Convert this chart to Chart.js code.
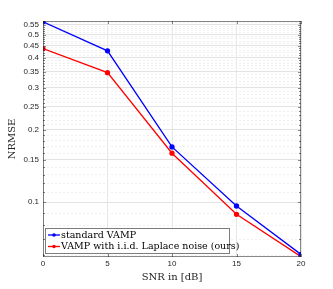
<!DOCTYPE html>
<html>
<head>
<meta charset="utf-8">
<script src="https://cdn.jsdelivr.net/npm/chart.js@4"></script>
<style>
  html, body { margin: 0; padding: 0; background: #fff; }
  #wrap { width: 333px; height: 289px; }
</style>
</head>
<body>
<div id="wrap"><canvas id="chart" width="333" height="289"></canvas></div>
<script>
// data
const snrDb = [0, 5, 10, 15, 20];
const standardVamp = [0.566, 0.428, 0.170, 0.0963, 0.0605];
const laplaceVamp = [0.437, 0.347, 0.160, 0.0889, 0.0592];
const yTickLabels = [0.1, 0.15, 0.2, 0.25, 0.3, 0.35, 0.4, 0.45, 0.5, 0.55];
const yMin = 0.059, yMax = 0.57;

const serif = '"DejaVu Serif", "Liberation Serif", serif';
const sans = '"Liberation Sans", Arial, sans-serif';

// every 0.01 from 0.06 up gets a grid line, only some get a label
const yGridValues = [];
for (let k = 6; k <= 57; k++) yGridValues.push(k / 100);
const isLabelled = v => yTickLabels.some(t => Math.abs(t - v) < 1e-6);

// box around the axes + inward tick marks, like matlab
const boxPlugin = {
    id: 'box',
    afterDraw(chart) {
        const { ctx, chartArea: a, scales } = chart;
        ctx.save();
        ctx.strokeStyle = '#262626';
        ctx.globalAlpha = 0.55;
        ctx.lineWidth = 1;
        ctx.strokeRect(a.left + 0.5, a.top + 0.5, a.right - a.left - 1, a.bottom - a.top - 1);
        ctx.beginPath();
        scales.y.ticks.forEach(t => {
            const y = Math.round(scales.y.getPixelForValue(t.value)) + 0.5;
            const len = isLabelled(t.value) ? 3 : 2;
            ctx.moveTo(a.left, y); ctx.lineTo(a.left + len, y);
            ctx.moveTo(a.right, y); ctx.lineTo(a.right - len, y);
        });
        scales.x.ticks.forEach(t => {
            const x = Math.round(scales.x.getPixelForValue(t.value)) + 0.5;
            ctx.moveTo(x, a.bottom); ctx.lineTo(x, a.bottom - 3);
            ctx.moveTo(x, a.top); ctx.lineTo(x, a.top + 3);
        });
        ctx.stroke();
        ctx.restore();
    }
};

new Chart(document.getElementById('chart'), {
    type: 'line',
    data: {
        datasets: [
            {
                label: 'standard VAMP',
                data: snrDb.map((x, i) => ({ x: x, y: standardVamp[i] })),
                borderColor: '#0000ff',
                backgroundColor: '#0000ff',
                borderWidth: 1.3,
                pointRadius: 2,
                pointStyle: 'circle'
            },
            {
                label: 'VAMP with i.i.d. Laplace noise (ours)',
                data: snrDb.map((x, i) => ({ x: x, y: laplaceVamp[i] })),
                borderColor: '#ff0000',
                backgroundColor: '#ff0000',
                borderWidth: 1.3,
                pointRadius: 2,
                pointStyle: 'circle'
            }
        ]
    },
    options: {
        responsive: false,
        animation: false,
        layout: { padding: { left: 6, top: 21, right: 32, bottom: 6 } },
        plugins: {
            legend: { display: false },
            tooltip: { enabled: false }
        },
        scales: {
            x: {
                type: 'linear',
                min: 0, max: 20,
                afterFit: s => { s.height = 26; },
                ticks: {
                    stepSize: 5,
                    padding: 2,
                    color: '#262626',
                    font: { family: sans, size: 8 }
                },
                grid: { color: '#e6e6e6', lineWidth: 1, drawTicks: false },
                border: { display: false },
                title: {
                    display: true,
                    text: 'SNR in [dB]',
                    color: '#262626',
                    font: { family: serif, size: 10 },
                    padding: { top: 1, bottom: 0 }
                }
            },
            y: {
                type: 'logarithmic',
                min: yMin, max: yMax,
                afterFit: s => { s.width = 37; },
                afterBuildTicks: s => { s.ticks = yGridValues.map(v => ({ value: v })); },
                ticks: {
                    autoSkip: false,
                    padding: 4,
                    color: '#262626',
                    font: { family: sans, size: 8 },
                    callback: v => isLabelled(v) ? String(Math.round(v * 100) / 100) : ''
                },
                grid: {
                    drawTicks: false,
                    color: c => (c.tick && isLabelled(c.tick.value)) ? '#e3e3e3' : '#f0f0f0',
                    lineWidth: 1
                },
                border: {
                    display: false,
                    dash: c => (c.tick && !isLabelled(c.tick.value)) ? [2, 2] : []
                },
                title: {
                    display: true,
                    text: 'NRMSE',
                    color: '#262626',
                    font: { family: serif, size: 10 },
                    padding: { top: 0, bottom: 2 }
                }
            }
        }
    },
    plugins: [boxPlugin, {
        // legend box drawn in the lower left corner of the axes
        id: 'insideLegend',
        afterDraw(chart) {
            const { ctx, chartArea: a } = chart;
            const x0 = a.left + 2, y0 = a.bottom - 29, w = 184, h = 25;
            ctx.save();
            ctx.fillStyle = '#fff';
            ctx.fillRect(x0, y0, w, h);
            ctx.strokeStyle = '#262626';
            ctx.globalAlpha = 0.6;
            ctx.lineWidth = 1;
            ctx.strokeRect(x0 + 0.5, y0 + 0.5, w, h);
            ctx.globalAlpha = 1;
            ctx.font = '9.5px ' + serif;
            ctx.textBaseline = 'middle';
            chart.data.datasets.forEach((ds, i) => {
                const ly = y0 + 7 + i * 11.5;
                ctx.strokeStyle = ds.borderColor;
                ctx.fillStyle = ds.borderColor;
                ctx.lineWidth = 1.3;
                ctx.beginPath();
                ctx.moveTo(x0 + 3, ly); ctx.lineTo(x0 + 15, ly);
                ctx.stroke();
                ctx.beginPath();
                ctx.arc(x0 + 9, ly, 1.8, 0, Math.PI * 2);
                ctx.fill();
                ctx.fillStyle = '#000';
                ctx.fillText(ds.label, x0 + 16, ly + 0.5);
            });
            ctx.restore();
        }
    }]
});
</script>
</body>
</html>
